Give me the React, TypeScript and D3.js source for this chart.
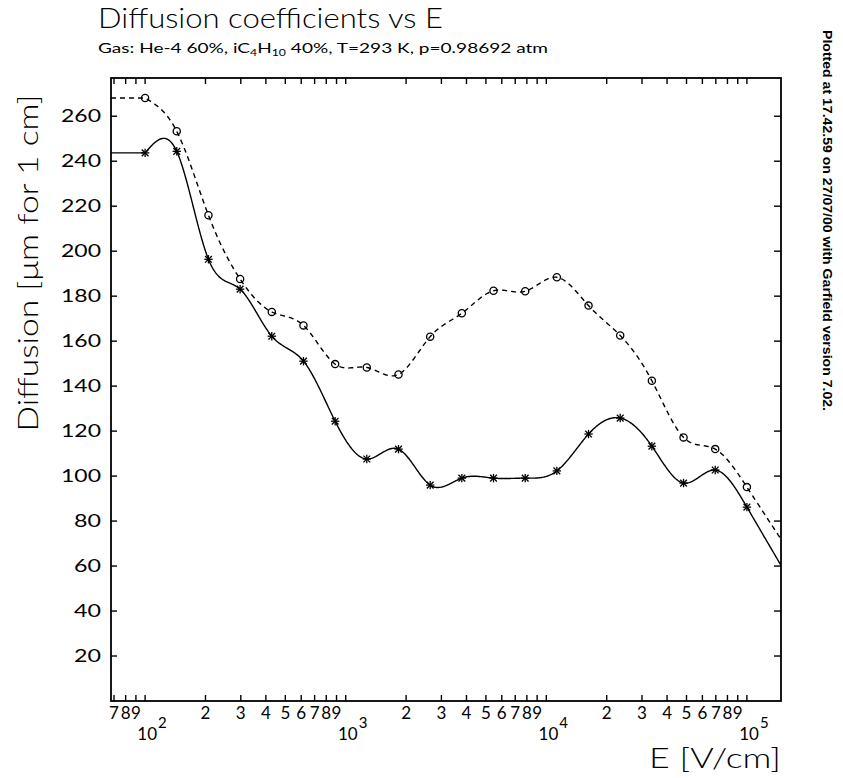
import React from "react";
import * as d3 from "d3";

// Electric field values (V/cm)
const fieldE = [100, 143.8, 206.9, 297.6, 428.1, 615.8, 885.9, 1274, 1833, 2637, 3793, 5456, 7848, 11288, 16238, 23357, 33598, 48329, 69519, 100000];
// Solid curve (stars)
const diffSolid = [243.7, 244.4, 196.4, 183.1, 162.2, 151.1, 124.4, 107.6, 112.0, 96.0, 99.1, 99.1, 99.1, 102.3, 118.7, 125.8, 113.3, 96.9, 102.7, 86.2];
// Dashed curve (circles)
const diffDashed = [268.1, 253.3, 216.0, 187.6, 173.0, 167.0, 149.8, 148.3, 145.2, 162.0, 172.4, 182.4, 182.2, 188.4, 175.8, 162.5, 142.4, 117.2, 112.0, 95.1];

const yTicks = [20, 40, 60, 80, 100, 120, 140, 160, 180, 200, 220, 240, 260];
const decades = [1, 2, 3, 4, 5];
const mantissas = [1, 2, 3, 4, 5, 6, 7, 8, 9];

const W = 843, H = 778;
const L = 111, R = 781, T = 78, B = 701;

function naturalSpline(xs: number[], ys: number[]) {
  const n = xs.length;
  const h: number[] = [];
  for (let i = 0; i < n - 1; i++) h.push(xs[i + 1] - xs[i]);
  const M = new Array(n).fill(0);
  const a = new Array(n).fill(0), b = new Array(n).fill(0), c = new Array(n).fill(0), r = new Array(n).fill(0);
  b[0] = 1; b[n - 1] = 1;
  for (let i = 1; i < n - 1; i++) {
    a[i] = h[i - 1];
    b[i] = 2 * (h[i - 1] + h[i]);
    c[i] = h[i];
    r[i] = 6 * ((ys[i + 1] - ys[i]) / h[i] - (ys[i] - ys[i - 1]) / h[i - 1]);
  }
  // Thomas algorithm
  const cp = new Array(n).fill(0), rp = new Array(n).fill(0);
  cp[0] = c[0] / b[0]; rp[0] = r[0] / b[0];
  for (let i = 1; i < n; i++) {
    const m = b[i] - a[i] * cp[i - 1];
    cp[i] = c[i] / m;
    rp[i] = (r[i] - a[i] * rp[i - 1]) / m;
  }
  M[n - 1] = rp[n - 1];
  for (let i = n - 2; i >= 0; i--) M[i] = rp[i] - cp[i] * M[i + 1];
  const hn = h[n - 2];
  const endSlope = (ys[n - 1] - ys[n - 2]) / hn + hn * (2 * M[n - 1] + M[n - 2]) / 6;
  return (t: number) => {
    if (t <= xs[0]) return ys[0];
    if (t >= xs[n - 1]) return ys[n - 1] + endSlope * (t - xs[n - 1]);
    let i = 0;
    while (i < n - 2 && t > xs[i + 1]) i++;
    const hi = h[i];
    const A = (xs[i + 1] - t) / hi, Bb = (t - xs[i]) / hi;
    return A * ys[i] + Bb * ys[i + 1] + ((A * A * A - A) * M[i] + (Bb * Bb * Bb - Bb) * M[i + 1]) * hi * hi / 6;
  };
}

export default function App() {
  const x = d3.scaleLog().domain([Math.pow(10, 1.83), Math.pow(10, 5.17)]).range([L, R]);
  const y = d3.scaleLinear().domain([0, 277]).range([B, T]);
  const [t0, t1] = x.domain().map(Math.log10);
  const logE = fieldE.map(Math.log10);

  const makePath = (vals: number[]) => {
    const f = naturalSpline(logE, vals);
    const pts: [number, number][] = [];
    const N = 800;
    for (let k = 0; k <= N; k++) {
      const t = t0 + (t1 - t0) * k / N;
      pts.push([t, f(t)]);
    }
    return d3.line<[number, number]>().x(p => x(Math.pow(10, p[0]))).y(p => y(p[1]))(pts) || "";
  };

  const xTickVals: { v: number; m: number; d: number }[] = [];
  decades.forEach(d => mantissas.forEach(m => {
    const v = m * Math.pow(10, d);
    const lv = Math.log10(v);
    if (lv >= t0 - 1e-9 && lv <= t1 + 1e-9) xTickVals.push({ v, m, d });
  }));

  const font = "Lato, 'DejaVu Sans', sans-serif";
  const s = 4.2;

  return (
    <svg width={W} height={H} style={{ position: "absolute", left: 0, top: 0, background: "#fff" }} fontFamily={font}>
      <rect x={0} y={0} width={W} height={H} fill="#fff" />
      <text x={98} y={28} fontSize={27} fontWeight={300} textLength={345} lengthAdjust="spacingAndGlyphs">Diffusion coefficients vs E</text>
      <text x={98} y={53} fontSize={14} fontWeight={400} textLength={450} lengthAdjust="spacingAndGlyphs">
        Gas: He-4 60%, iC<tspan fontSize={9} dy={3}>4</tspan><tspan dy={-3}>H</tspan><tspan fontSize={9} dy={3}>10</tspan><tspan dy={-3}> 40%, T=293 K, p=0.98692 atm</tspan>
      </text>
      <text transform={`translate(823,30) rotate(90)`} fontSize={12} fontWeight={700} fontFamily="'Liberation Sans', Arial, sans-serif" textLength={381} lengthAdjust="spacingAndGlyphs">Plotted at 17.42.59 on 27/07/00 with Garfield version 7.02.</text>
      <text transform={`translate(38,263) rotate(-90)`} textAnchor="middle" fontSize={27} fontWeight={300} textLength={337} lengthAdjust="spacingAndGlyphs">Diffusion [μm for 1 cm]</text>
      <text x={781} y={768} textAnchor="end" fontSize={27} fontWeight={300} textLength={132} lengthAdjust="spacingAndGlyphs">E [V/cm]</text>

      <defs>
        <clipPath id="plotclip"><rect x={L} y={T} width={R - L} height={B - T} /></clipPath>
      </defs>

      {/* y ticks & labels */}
      {yTicks.map(v => (
        <g key={"y" + v}>
          <line x1={L} x2={L + 6} y1={y(v)} y2={y(v)} stroke="#000" strokeWidth={1.4} />
          <line x1={R} x2={R - 7} y1={y(v)} y2={y(v)} stroke="#000" strokeWidth={1.4} />
          <text x={101} y={y(v) + 6} textAnchor="end" fontSize={17} fontWeight={400} textLength={v >= 100 ? 40 : 27} lengthAdjust="spacingAndGlyphs">{v}</text>
        </g>
      ))}

      {/* x ticks & labels */}
      {xTickVals.map(({ v, m, d }) => (
        <g key={"x" + v}>
          <line x1={x(v)} x2={x(v)} y1={B} y2={B - 6} stroke="#000" strokeWidth={1.4} />
          <line x1={x(v)} x2={x(v)} y1={T} y2={T + 6} stroke="#000" strokeWidth={1.4} />
          {m === 1 ? (
            <g>
              <text x={x(v) + 12} y={740} textAnchor="end" fontSize={17}>10</text>
              <text x={x(v) + 13} y={728} fontSize={15}>{d}</text>
            </g>
          ) : (
            <text x={x(v)} y={719} textAnchor="middle" fontSize={17}>{m}</text>
          )}
        </g>
      ))}

      <g clipPath="url(#plotclip)">
        <path d={makePath(diffDashed)} fill="none" stroke="#000" strokeWidth={1.4} strokeDasharray="5 4" />
        <path d={makePath(diffSolid)} fill="none" stroke="#000" strokeWidth={1.4} />
      </g>

      {fieldE.map((e, i) => (
        <circle key={"c" + i} cx={x(e)} cy={y(diffDashed[i])} r={3.6} fill="none" stroke="#000" strokeWidth={1.3} />
      ))}
      {fieldE.map((e, i) => {
        const cx = x(e), cy = y(diffSolid[i]);
        return (
          <g key={"s" + i} stroke="#000" strokeWidth={1.3}>
            <line x1={cx - s} x2={cx + s} y1={cy} y2={cy} />
            <line x1={cx} x2={cx} y1={cy - s} y2={cy + s} />
            <line x1={cx - s * 0.8} x2={cx + s * 0.8} y1={cy - s * 0.8} y2={cy + s * 0.8} />
            <line x1={cx - s * 0.8} x2={cx + s * 0.8} y1={cy + s * 0.8} y2={cy - s * 0.8} />
          </g>
        );
      })}

      <rect x={L} y={T} width={R - L} height={B - T} fill="none" stroke="#000" strokeWidth={1.8} />
    </svg>
  );
}
